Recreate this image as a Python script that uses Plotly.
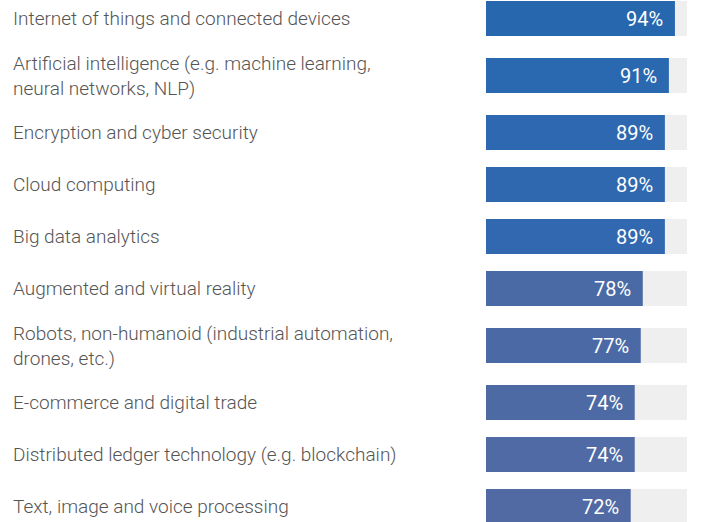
import plotly.graph_objects as go

labels = [
    "Internet of things and connected devices",
    "Artificial intelligence (e.g. machine learning,<br>neural networks, NLP)",
    "Encryption and cyber security",
    "Cloud computing",
    "Big data analytics",
    "Augmented and virtual reality",
    "Robots, non-humanoid (industrial automation,<br>drones, etc.)",
    "E-commerce and digital trade",
    "Distributed ledger technology (e.g. blockchain)",
    "Text, image and voice processing",
]
values = [94, 91, 89, 89, 89, 78, 77, 74, 74, 72]
bar_colors = ["#2767ae", "#2a68af", "#2e68b0", "#3068b0", "#3168b0",
              "#4a6aa5", "#4b6aa5", "#4e6aa4", "#4f6aa4", "#516aa3"]

# rows with two-line labels get a bit more room
lines = [l.count("<br>") + 1 for l in labels]
ypos = [0]
for i in range(1, len(labels)):
    ypos.append(ypos[-1] + 52 + 5 * ((lines[i - 1] > 1) + (lines[i] > 1)))

fig = go.Figure()
fig.add_trace(go.Bar(x=[100] * len(values), y=ypos, orientation='h',
                     width=35, marker=dict(color='#efefef', line_width=0),
                     hoverinfo='skip'))
fig.add_trace(go.Bar(x=values, y=ypos, orientation='h', width=35,
                     marker=dict(color=bar_colors, line_width=0)))

for lab, v, y in zip(labels, values, ypos):
    fig.add_annotation(x=11 / 704, xref='paper', y=y, yref='y',
                       text=lab, showarrow=False, xanchor='left', align='left',
                       font=dict(family='Roboto Light, Roboto', size=19,
                                 color='#555555', weight=300))
    fig.add_annotation(x=v, y=y, text=f"{v}%", showarrow=False,
                       xanchor='right', xshift=-10,
                       font=dict(family='Roboto', size=20, color='white'))

fig.update_layout(
    width=704, height=522,
    margin=dict(l=0, r=0, t=0, b=0),
    plot_bgcolor='white', paper_bgcolor='white',
    barmode='overlay', showlegend=False,
    xaxis=dict(range=[0, 100], domain=[486 / 704, 687 / 704], visible=False),
    yaxis=dict(range=[503.5, -18.5], visible=False),
)

fig.write_html("out.html", config={'displayModeBar': False},
               post_script="document.body.style.margin='0';")
